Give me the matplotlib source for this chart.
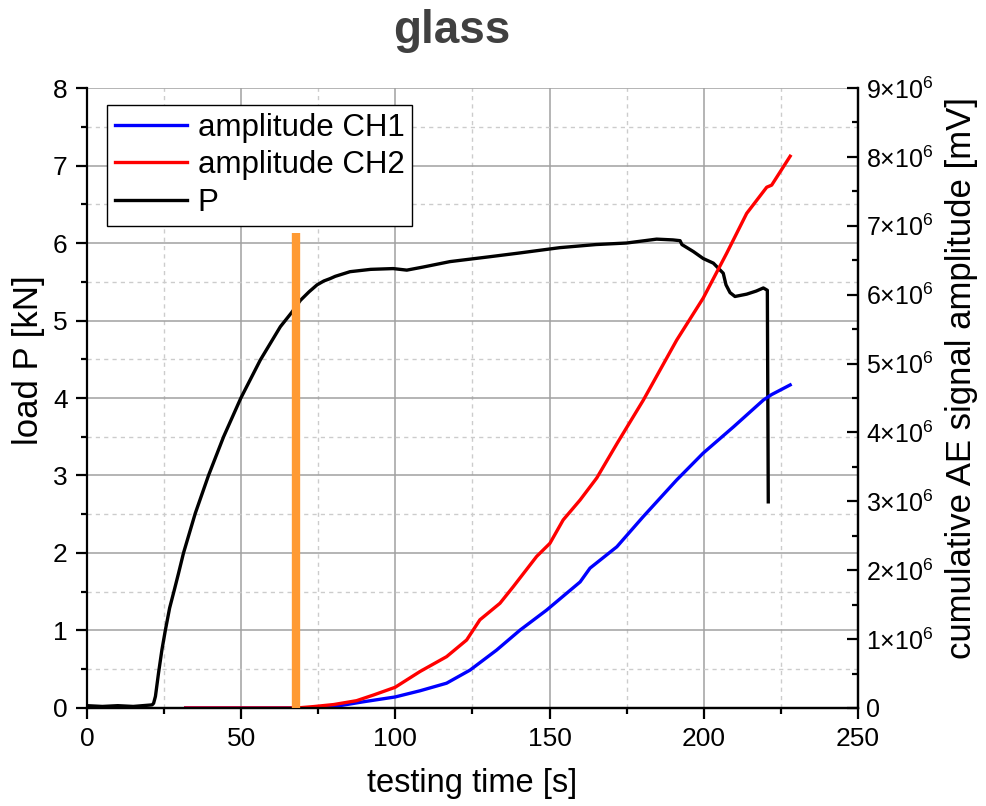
import numpy as np
import matplotlib
matplotlib.use("Agg")
import matplotlib.pyplot as plt
from matplotlib.ticker import MultipleLocator, FuncFormatter

plt.rcParams['font.family'] = ['Liberation Sans', 'DejaVu Sans']
plt.rcParams['mathtext.fontset'] = 'custom'
plt.rcParams['mathtext.rm'] = 'Liberation Sans'
plt.rcParams['mathtext.it'] = 'Liberation Sans:italic'

# load P [kN] vs time [s]
t_p = [0, 5, 10, 15, 21.1, 21.6, 22.2, 23.2, 24.3, 25.4, 26.8, 28.3, 29.7, 31.3,
       35.1, 39.4, 44.3, 49.9, 56.2, 62.7, 66.5, 69.2, 72, 74.6, 76.8, 78.8,
       80.5, 85.3, 92, 99.3, 103.7, 109, 117.7, 130, 140, 153.3, 165, 175,
       184.7, 190, 192.3, 192.9, 196.6, 199.8, 203.1, 206.3, 207.2, 208.5,
       210.1, 213.9, 217, 219.3, 220.6, 220.9]
load_p = [0.03, 0.02, 0.03, 0.02, 0.04, 0.06, 0.15, 0.45, 0.75, 1.0, 1.29, 1.52,
          1.74, 2.0, 2.51, 3.0, 3.5, 4.0, 4.49, 4.92, 5.11, 5.26, 5.37, 5.46,
          5.51, 5.54, 5.57, 5.63, 5.66, 5.67, 5.65, 5.69, 5.76, 5.82, 5.87,
          5.94, 5.98, 6.0, 6.05, 6.04, 6.03, 5.98, 5.89, 5.80, 5.74, 5.61,
          5.46, 5.36, 5.31, 5.34, 5.38, 5.42, 5.39, 2.66]

# cumulative amplitude CH1 [x1e6 mV]
t_ch1 = [32, 68, 78.8, 89.6, 99.9, 108, 116.6, 124.2, 132.8, 140.4, 149, 159.9,
         163.1, 171.8, 180.4, 191.2, 199.8, 209.6, 219.3, 222, 228]
amp_ch1 = [0, 0, 0.01, 0.09, 0.16, 0.25, 0.36, 0.55, 0.84, 1.13, 1.42, 1.83,
           2.03, 2.34, 2.78, 3.31, 3.70, 4.08, 4.47, 4.55, 4.69]

# cumulative amplitude CH2 [x1e6 mV]
t_ch2 = [32, 68, 73.4, 80, 87.4, 93, 99.9, 108, 116.6, 123.1, 127.4, 133.9,
         138.2, 145.8, 150.1, 154.4, 159.9, 165.3, 172, 180.4, 191.2, 199.8,
         207.4, 213.9, 220.4, 222, 228]
amp_ch2 = [0, 0, 0.02, 0.05, 0.106, 0.19, 0.30, 0.53, 0.745, 0.987, 1.28, 1.52,
           1.76, 2.20, 2.39, 2.73, 3.02, 3.34, 3.85, 4.47, 5.34, 5.95, 6.60,
           7.18, 7.56, 7.59, 8.01]

# marker line
t_mark = 67.8
mark_top = 6.9  # x1e6, right axis

fig = plt.figure(figsize=(9.86, 8.06), dpi=100)
ax = fig.add_axes([0.0882, 0.1216, 0.7820, 0.7692])
ax2 = ax.twinx()

ax.plot(t_p, load_p, color='black', lw=2.4, label='P', zorder=3)
l1, = ax2.plot(t_ch1, np.array(amp_ch1) * 1e6, color='#0000ff', lw=2.4, label='amplitude CH1')
l2, = ax2.plot(t_ch2, np.array(amp_ch2) * 1e6, color='#ff0000', lw=2.4, label='amplitude CH2')
ax2.vlines(t_mark, 0, mark_top * 1e6, color='#ff9a33', lw=6, zorder=5)

ax.set_xlim(0, 250)
ax.set_ylim(0, 8)
ax2.set_ylim(0, 9e6)

ax.xaxis.set_major_locator(MultipleLocator(50))
ax.xaxis.set_minor_locator(MultipleLocator(25))
ax.yaxis.set_major_locator(MultipleLocator(1))
ax.yaxis.set_minor_locator(MultipleLocator(0.5))
ax2.yaxis.set_major_locator(MultipleLocator(1e6))
ax2.yaxis.set_minor_locator(MultipleLocator(0.5e6))

def sci(v, pos):
    n = int(round(v / 1e6))
    if n == 0:
        return '0'
    return r'$\mathrm{%d{\times}10^{6}}$' % n

ax2.yaxis.set_major_formatter(FuncFormatter(sci))

ax.grid(which='major', color='#a0a0a0', lw=1.1, ls='-')
ax.grid(which='minor', color='#cccccc', lw=1.0, ls=(0, (3, 3)))
ax.set_axisbelow(True)

for a in (ax, ax2):
    for s in a.spines.values():
        s.set_linewidth(1.6)
    a.spines['top'].set_visible(False)

ax.tick_params(which='major', direction='out', length=8, width=1.6, labelsize=19, pad=6)
ax.tick_params(which='minor', direction='out', length=4.5, width=1.6)
ax2.tick_params(which='major', direction='in', length=8, width=1.6, labelsize=18, pad=6)
ax2.tick_params(which='minor', direction='in', length=4.5, width=1.6)
ax2.spines['left'].set_visible(False)

ax.set_xlabel('testing time [s]', fontsize=23.5, labelpad=12)
ax.set_ylabel('load P [kN]', fontsize=25)
ax2.set_ylabel('cumulative AE signal amplitude [mV]', fontsize=25)
ax.yaxis.set_label_coords(-0.0545, 0.561)
ax2.yaxis.set_label_coords(1.113, 0.532)

fig.text(0.458, 0.962, 'glass', fontsize=33, fontweight='bold', color='#404040',
         ha='center', va='center')

handles = [l1, l2, ax.get_lines()[0]]
leg = ax2.legend(handles, [h.get_label() for h in handles], loc='upper left',
                 bbox_to_anchor=(0.026, 0.973), fontsize=22.5, frameon=True,
                 fancybox=False, edgecolor='black', framealpha=1,
                 handlelength=2.3, handletextpad=0.35, labelspacing=0.25,
                 borderpad=0.25, borderaxespad=0)
leg.get_frame().set_linewidth(1.0)
leg.set_zorder(10)

fig.savefig('out.png', dpi=100)
